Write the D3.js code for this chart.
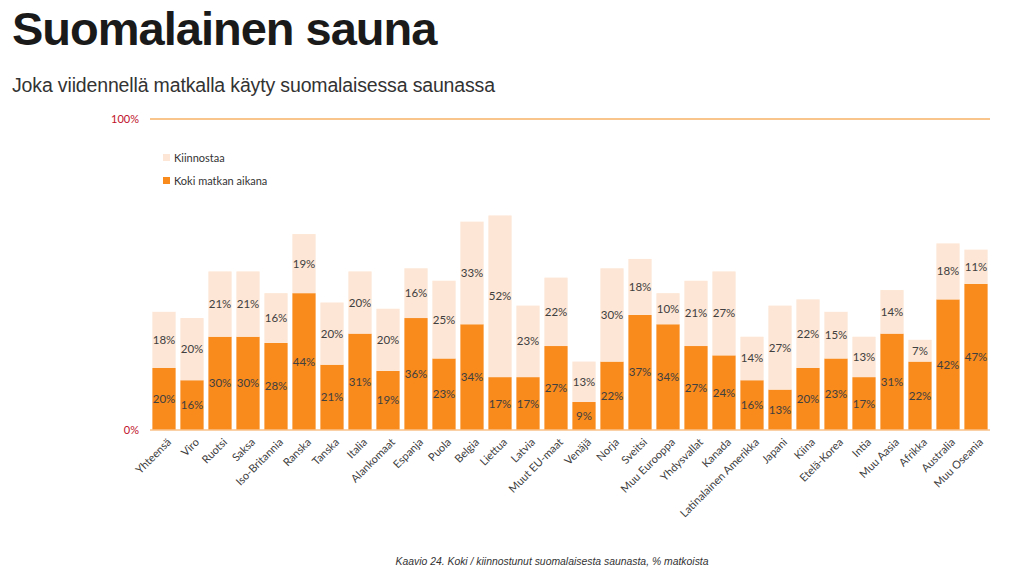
<!DOCTYPE html>
<html><head><meta charset="utf-8">
<script src="https://cdn.jsdelivr.net/npm/d3@7"></script>
<style>body{margin:0;background:#fff}svg{display:block}</style>
</head><body>
<svg id="c" width="1024" height="575"></svg>
<script>
const categories = ["Yhteensä","Viro","Ruotsi","Saksa","Iso-Britannia","Ranska","Tanska","Italia","Alankomaat","Espanja","Puola","Belgia","Liettua","Latvia","Muut EU-maat","Venäjä","Norja","Sveitsi","Muu Eurooppa","Yhdysvallat","Kanada","Latinalainen Amerikka","Japani","Kiina","Etelä-Korea","Intia","Muu Aasia","Afrikka","Australia","Muu Oseania"];
const koki = [20,16,30,30,28,44,21,31,19,36,23,34,17,17,27,9,22,37,34,27,24,16,13,20,23,17,31,22,42,47];
const kiinnostaa = [18,20,21,21,16,19,20,20,20,16,25,33,52,23,22,13,30,18,10,21,27,14,27,22,15,13,14,7,18,11];
const seriesNames = ["Kiinnostaa","Koki matkan aikana"];
const yTicks = [0,100];
const title = "Suomalainen sauna";
const subtitle = "Joka viidennellä matkalla käyty suomalaisessa saunassa";
const caption = "Kaavio 24. Koki / kiinnostunut suomalaisesta saunasta, % matkoista";

const svg = d3.select("#c");
const dark = "#1a1a1a", orange = "#F98A1C", light = "#FDE6D5", labelC = "#404040", red = "#C0102A";
const lab = "Lato, 'Open Sans', sans-serif";

svg.append("text").attr("x",12).attr("y",45).text(title)
  .attr("font-family","'Liberation Sans', Arial, sans-serif").attr("font-weight","bold")
  .attr("font-size",47).attr("letter-spacing","-1px").attr("fill",dark);
svg.append("text").attr("x",12).attr("y",92).text(subtitle)
  .attr("font-family","'Liberation Sans', Arial, sans-serif")
  .attr("font-size",19.5).attr("letter-spacing","-0.15px").attr("fill","#333");

const x = d3.scaleBand().domain(categories).range([150,990]).paddingInner(0.17).paddingOuter(0.085);
const y = d3.scaleLinear().domain([0,100]).range([430,119]);

// 100% line
svg.append("line").attr("x1",150).attr("x2",990).attr("y1",y(100)).attr("y2",y(100))
  .attr("stroke","#F9B266").attr("stroke-width",1.5);

const data = categories.map((c,i)=>({c, a:koki[i], b:kiinnostaa[i]}));
const g = svg.append("g");
g.selectAll(".k").data(data).join("rect")
  .attr("x",d=>x(d.c)).attr("width",x.bandwidth())
  .attr("y",d=>y(d.a)).attr("height",d=>y(0)-y(d.a)).attr("fill",orange);
g.selectAll(".i").data(data).join("rect")
  .attr("x",d=>x(d.c)).attr("width",x.bandwidth())
  .attr("y",d=>y(d.a+d.b)).attr("height",d=>y(d.a)-y(d.a+d.b)).attr("fill",light);

g.selectAll(".tk").data(data).join("text")
  .attr("x",d=>x(d.c)+x.bandwidth()/2).attr("y",d=>y(d.a/2)).attr("dy","0.35em")
  .attr("text-anchor","middle").attr("font-family",lab).attr("font-size",11.5).attr("fill",labelC)
  .text(d=>d.a+"%");
g.selectAll(".ti").data(data).join("text")
  .attr("x",d=>x(d.c)+x.bandwidth()/2).attr("y",d=>y(d.a+d.b/2)).attr("dy","0.35em")
  .attr("text-anchor","middle").attr("font-family",lab).attr("font-size",11.5).attr("fill",labelC)
  .text(d=>d.b+"%");

// baseline
svg.append("line").attr("x1",150).attr("x2",990).attr("y1",y(0)).attr("y2",y(0))
  .attr("stroke","#F9C08A").attr("stroke-width",1.5);

// y labels
svg.selectAll(".yl").data(yTicks).join("text")
  .attr("x",139).attr("y",d=>y(d)).attr("dy","0.35em").attr("text-anchor","end")
  .attr("font-family",lab).attr("font-size",11).attr("fill",red).text(d=>d+"%");

// x axis labels
const xa = svg.append("g").attr("transform","translate(0,438)")
  .call(d3.axisBottom(x).tickSize(0).tickPadding(0));
xa.select(".domain").remove();
xa.selectAll("text").attr("font-family",lab).attr("font-size",11).attr("fill",labelC)
  .attr("text-anchor","end").attr("dy","0.35em").attr("y",3)
  .attr("transform","translate(3,0) rotate(-45)");

// legend
const lg = svg.append("g");
[["Kiinnostaa",light,158],["Koki matkan aikana",orange,181]].forEach(([t,c,yy])=>{
  lg.append("rect").attr("x",163).attr("y",yy-4).attr("width",7).attr("height",7).attr("fill",c);
  lg.append("text").attr("x",174).attr("y",yy).attr("dy","0.35em").attr("font-family",lab)
    .attr("font-size",11).attr("fill","#333").text(t);
});

svg.append("text").attr("x",552).attr("y",565).attr("text-anchor","middle").text(caption)
  .attr("font-family","'Liberation Sans', Arial, sans-serif").attr("font-style","italic")
  .attr("font-size",10.4).attr("fill","#333");
</script>
</body></html>
